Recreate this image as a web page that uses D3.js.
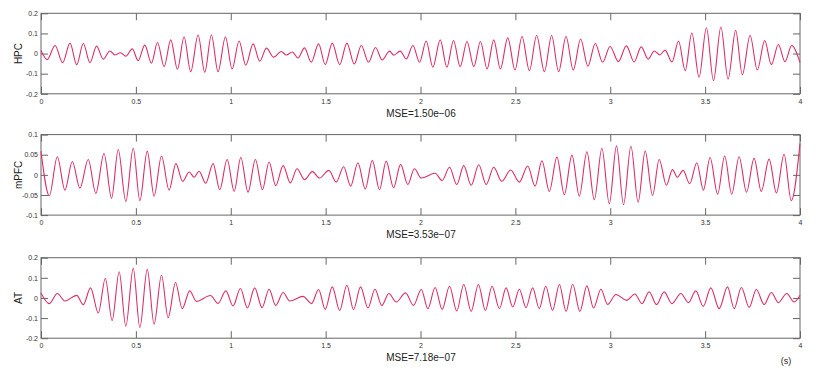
<!DOCTYPE html>
<html>
<head>
<meta charset="utf-8">
<script src="https://cdn.jsdelivr.net/npm/d3@7"></script>
<style>
  body { margin: 0; background: #fff; }
  svg { display: block; font-family: "Liberation Sans", Arial, sans-serif; }
  .tick text { fill: #333; }
</style>
</head>
<body>
<div id="chart"></div>
<script>
// extrema (time in s, amplitude)
const hpcPeaks = [
  [0.000, 0.015], [0.033, -0.030], [0.074, 0.040], [0.114, -0.045], [0.153, 0.052], [0.188, -0.055],
  [0.223, 0.050], [0.258, -0.045], [0.293, 0.037], [0.328, -0.028], [0.363, 0.013], [0.389, -0.007],
  [0.419, 0.004], [0.447, -0.013], [0.481, 0.023], [0.512, -0.035], [0.547, 0.042], [0.582, -0.048],
  [0.614, 0.055], [0.649, -0.065], [0.684, 0.068], [0.719, -0.078], [0.754, 0.082], [0.789, -0.090],
  [0.828, 0.092], [0.863, -0.093], [0.898, 0.092], [0.933, -0.090], [0.972, 0.082], [1.007, -0.077],
  [1.044, 0.062], [1.079, -0.058], [1.118, 0.048], [1.153, -0.038], [1.188, 0.027], [1.226, -0.018],
  [1.266, 0.010], [1.293, -0.007], [1.325, 0.008], [1.354, -0.022], [1.389, 0.028], [1.424, -0.043],
  [1.463, 0.048], [1.498, -0.055], [1.535, 0.052], [1.574, -0.055], [1.612, 0.052], [1.651, -0.052],
  [1.688, 0.040], [1.726, -0.043], [1.763, 0.030], [1.798, -0.032], [1.837, 0.012], [1.859, -0.008],
  [1.893, 0.012], [1.925, -0.027], [1.960, 0.040], [1.995, -0.043], [2.030, 0.062], [2.065, -0.068],
  [2.104, 0.068], [2.139, -0.068], [2.174, 0.065], [2.209, -0.065], [2.245, 0.060], [2.281, -0.065],
  [2.316, 0.060], [2.351, -0.077], [2.386, 0.068], [2.421, -0.077], [2.460, 0.078], [2.498, -0.082],
  [2.535, 0.085], [2.574, -0.085], [2.612, 0.090], [2.653, -0.090], [2.691, 0.090], [2.728, -0.090],
  [2.767, 0.085], [2.805, -0.082], [2.844, 0.072], [2.882, -0.063], [2.921, 0.050], [2.960, -0.043],
  [2.999, 0.035], [3.043, -0.040], [3.085, 0.038], [3.126, -0.042], [3.163, 0.033], [3.200, -0.028],
  [3.232, 0.013], [3.261, -0.007], [3.289, 0.017], [3.325, -0.042], [3.360, 0.062], [3.395, -0.085],
  [3.430, 0.102], [3.468, -0.118], [3.507, 0.128], [3.544, -0.135], [3.583, 0.132], [3.621, -0.127],
  [3.661, 0.115], [3.696, -0.105], [3.737, 0.090], [3.775, -0.082], [3.814, 0.065], [3.849, -0.055],
  [3.886, 0.045], [3.921, -0.040], [3.956, 0.040], [4.000, -0.045]
];
const mpfcPeaks = [
  [0.000, 0.059], [0.044, -0.052], [0.086, 0.045], [0.126, -0.038], [0.165, 0.033], [0.205, -0.033],
  [0.249, 0.038], [0.289, -0.046], [0.332, 0.053], [0.372, -0.058], [0.407, 0.063], [0.447, -0.066],
  [0.486, 0.066], [0.521, -0.064], [0.560, 0.059], [0.596, -0.053], [0.635, 0.047], [0.675, -0.038],
  [0.711, 0.028], [0.746, -0.016], [0.781, 0.007], [0.807, -0.006], [0.833, 0.009], [0.868, -0.021],
  [0.907, 0.028], [0.942, -0.037], [0.981, 0.038], [1.018, -0.041], [1.053, 0.043], [1.091, -0.043],
  [1.130, 0.038], [1.167, -0.037], [1.202, 0.032], [1.237, -0.027], [1.276, 0.023], [1.314, -0.020],
  [1.349, 0.015], [1.389, -0.012], [1.430, 0.008], [1.468, -0.008], [1.517, 0.011], [1.556, -0.018],
  [1.595, 0.020], [1.632, -0.028], [1.670, 0.030], [1.709, -0.035], [1.746, 0.036], [1.784, -0.037],
  [1.819, 0.034], [1.858, -0.032], [1.895, 0.026], [1.933, -0.024], [1.968, 0.015], [2.004, -0.008],
  [2.077, 0.004], [2.114, -0.014], [2.153, 0.019], [2.191, -0.024], [2.228, 0.023], [2.267, -0.026],
  [2.307, 0.025], [2.346, -0.024], [2.386, 0.019], [2.428, -0.016], [2.475, 0.012], [2.521, -0.018],
  [2.565, 0.022], [2.604, -0.028], [2.640, 0.035], [2.679, -0.041], [2.719, 0.044], [2.758, -0.049],
  [2.798, 0.049], [2.837, -0.053], [2.877, 0.057], [2.916, -0.062], [2.956, 0.066], [2.995, -0.072],
  [3.033, 0.072], [3.070, -0.074], [3.109, 0.071], [3.147, -0.068], [3.184, 0.059], [3.223, -0.051],
  [3.258, 0.038], [3.296, -0.026], [3.328, 0.013], [3.354, -0.006], [3.384, 0.011], [3.419, -0.022],
  [3.456, 0.030], [3.491, -0.038], [3.526, 0.043], [3.566, -0.048], [3.603, 0.047], [3.640, -0.048],
  [3.679, 0.045], [3.718, -0.043], [3.758, 0.041], [3.796, -0.041], [3.837, 0.039], [3.876, -0.045],
  [3.916, 0.051], [3.954, -0.064], [4.000, 0.078]
];
const atPeaks = [
  [0.000, 0.025], [0.044, -0.028], [0.086, 0.022], [0.126, -0.015], [0.188, 0.013], [0.223, -0.033],
  [0.261, 0.050], [0.302, -0.075], [0.339, 0.097], [0.375, -0.112], [0.412, 0.130], [0.447, -0.140],
  [0.486, 0.147], [0.521, -0.147], [0.560, 0.142], [0.596, -0.130], [0.635, 0.113], [0.670, -0.098],
  [0.709, 0.077], [0.744, -0.053], [0.784, 0.035], [0.819, -0.017], [0.893, 0.012], [0.933, -0.027],
  [0.974, 0.035], [1.012, -0.040], [1.051, 0.047], [1.088, -0.050], [1.126, 0.050], [1.165, -0.048],
  [1.202, 0.043], [1.237, -0.037], [1.276, 0.027], [1.311, -0.015], [1.381, 0.008], [1.426, -0.028],
  [1.463, 0.042], [1.498, -0.057], [1.535, 0.055], [1.574, -0.062], [1.612, 0.063], [1.647, -0.058],
  [1.684, 0.055], [1.723, -0.050], [1.760, 0.043], [1.796, -0.037], [1.833, 0.022], [1.872, -0.020],
  [1.921, 0.025], [1.963, -0.037], [2.004, 0.042], [2.039, -0.053], [2.077, 0.052], [2.114, -0.057],
  [2.153, 0.058], [2.191, -0.065], [2.228, 0.067], [2.267, -0.067], [2.305, 0.067], [2.342, -0.062],
  [2.377, 0.058], [2.416, -0.053], [2.451, 0.050], [2.486, -0.045], [2.521, 0.043], [2.556, -0.048],
  [2.591, 0.050], [2.626, -0.053], [2.660, 0.058], [2.696, -0.062], [2.732, 0.067], [2.767, -0.067],
  [2.802, 0.068], [2.840, -0.067], [2.877, 0.060], [2.912, -0.050], [2.951, 0.043], [2.986, -0.032],
  [3.030, 0.017], [3.086, -0.012], [3.130, 0.020], [3.167, -0.028], [3.205, 0.030], [3.244, -0.033],
  [3.284, 0.030], [3.325, -0.028], [3.372, 0.022], [3.412, -0.023], [3.451, 0.035], [3.490, -0.042],
  [3.530, 0.050], [3.574, -0.053], [3.618, 0.055], [3.653, -0.053], [3.691, 0.052], [3.732, -0.047],
  [3.770, 0.042], [3.811, -0.033], [3.849, 0.027], [3.886, -0.023], [3.930, 0.022], [3.969, -0.020],
  [4.000, 0.013]
];

const regions = ["HPC", "mPFC", "AT"];
const mseLabels = ["MSE=1.50e\u221206", "MSE=3.53e\u221207", "MSE=7.18e\u221207"];
const xTicks = [0, 0.5, 1, 1.5, 2, 2.5, 3, 3.5, 4];
const yTicksWide = [-0.2, -0.1, 0, 0.1, 0.2];
const yTicksNarrow = [-0.1, -0.05, 0, 0.05, 0.1];

const width = 818, height = 381;
const left = 41, right = 800, panelH = 80.5;
const tops = [13.3, 134.6, 257.7];
const lineColor = "#dc2f66";
const frameColor = "#666";

const panels = [
  { name: regions[0], mse: mseLabels[0], data: hpcPeaks, ticks: yTicksWide },
  { name: regions[1], mse: mseLabels[1], data: mpfcPeaks, ticks: yTicksNarrow },
  { name: regions[2], mse: mseLabels[2], data: atPeaks, ticks: yTicksWide }
];

const svg = d3.select("#chart")
  .append("svg")
    .attr("width", width)
    .attr("height", height);

const x = d3.scaleLinear().domain([0, 4]).range([left, right]);
const fmt = d => String(d);

panels.forEach((p, i) => {
  const top = tops[i], bottom = top + panelH;
  const ext = d3.max(p.ticks);
  const y = d3.scaleLinear().domain([-ext, ext]).range([bottom, top]);
  const g = svg.append("g");

  // ticks, all pointing inward
  const styleAxis = sel => {
    sel.select(".domain").remove();
    sel.selectAll(".tick line").attr("stroke", frameColor);
    sel.selectAll(".tick text").attr("font-size", 7);
  };
  g.append("g")
    .attr("transform", `translate(0,${bottom})`)
    .call(d3.axisBottom(x).tickValues(xTicks).tickSize(-7).tickPadding(5).tickFormat(fmt))
    .call(styleAxis);
  g.append("g")
    .attr("transform", `translate(0,${top})`)
    .call(d3.axisTop(x).tickValues(xTicks).tickSize(-7).tickFormat(""))
    .call(styleAxis);
  g.append("g")
    .attr("transform", `translate(${left},0)`)
    .call(d3.axisLeft(y).tickValues(p.ticks).tickSize(-7).tickPadding(3).tickFormat(fmt))
    .call(styleAxis);
  g.append("g")
    .attr("transform", `translate(${right},0)`)
    .call(d3.axisRight(y).tickValues(p.ticks).tickSize(-7).tickFormat(""))
    .call(styleAxis);

  // frame
  g.append("rect")
    .attr("x", left)
    .attr("y", top)
    .attr("width", right - left)
    .attr("height", panelH)
    .attr("fill", "none")
    .attr("stroke", frameColor)
    .attr("stroke-width", 1);

  // trace through the extrema
  const line = d3.line()
    .x(d => x(d[0]))
    .y(d => y(d[1]))
    .curve(d3.curveMonotoneX);
  g.append("path")
    .datum(p.data)
    .attr("d", line)
    .attr("fill", "none")
    .attr("stroke", lineColor)
    .attr("stroke-width", 1.1);

  // region label
  g.append("text")
    .attr("transform", `translate(18,${(top + bottom) / 2}) rotate(-90)`)
    .attr("text-anchor", "middle")
    .attr("dy", "0.35em")
    .attr("font-size", 10)
    .attr("fill", "#222")
    .text(p.name);

  // error label
  g.append("text")
    .attr("x", 421)
    .attr("y", bottom + 19.5)
    .attr("dy", "0.35em")
    .attr("text-anchor", "middle")
    .attr("font-size", 10)
    .attr("fill", "#222")
    .text(p.mse);
});

svg.append("text")
  .attr("x", 786)
  .attr("y", 361)
  .attr("dy", "0.35em")
  .attr("text-anchor", "middle")
  .attr("font-size", 9)
  .attr("fill", "#222")
  .text("(s)");
</script>
</body>
</html>
